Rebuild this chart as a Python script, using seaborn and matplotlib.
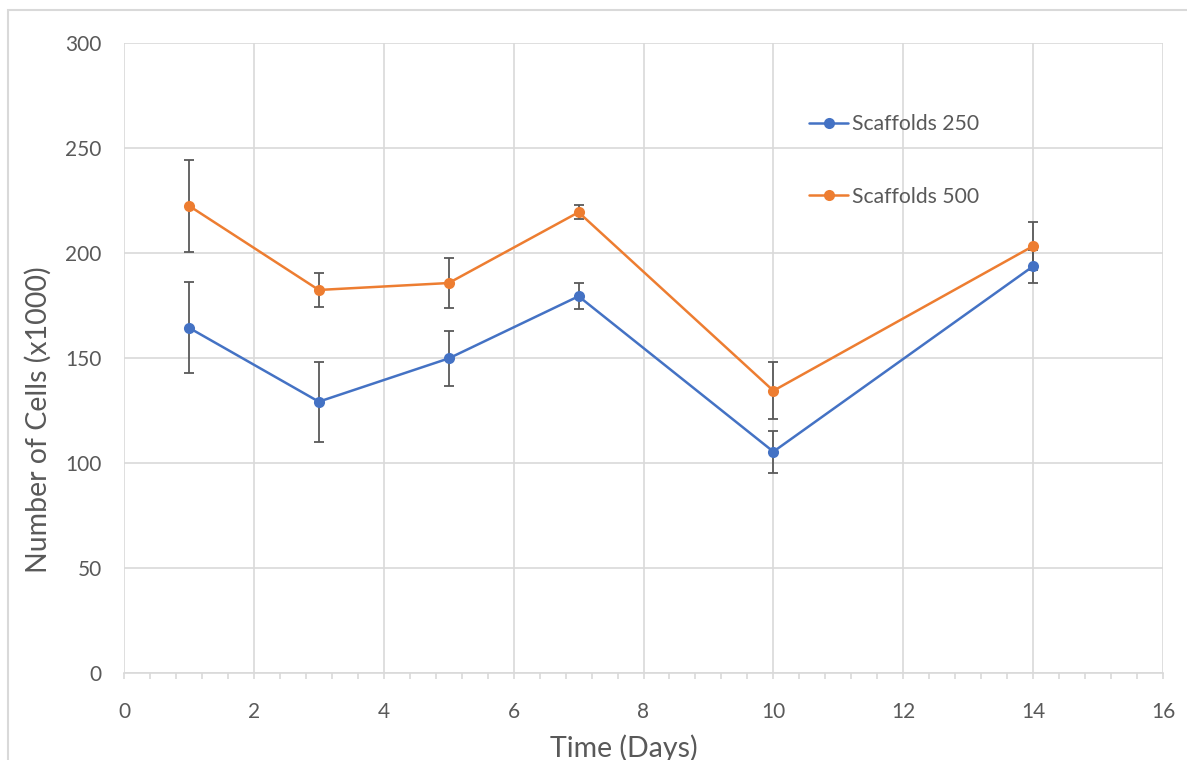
import numpy as np
import pandas as pd
import matplotlib
matplotlib.use("Agg")
import matplotlib.pyplot as plt
from matplotlib.lines import Line2D
from matplotlib.patches import Rectangle
from matplotlib.ticker import MultipleLocator
import seaborn as sns

# Cell counts (x1000) over time for two scaffold densities
days = [1, 3, 5, 7, 10, 14]
scaffolds_250 = [164.4, 129.2, 149.8, 179.4, 105.4, 193.7]
scaffolds_250_err = [21.7, 19.0, 12.9, 6.2, 10.0, 7.8]
scaffolds_500 = [222.5, 182.4, 185.7, 219.4, 134.4, 203.3]
scaffolds_500_err = [21.9, 8.3, 11.8, 3.3, 13.5, 11.3]
series_names = ["Scaffolds 250", "Scaffolds 500"]
x_ticks = [0, 2, 4, 6, 8, 10, 12, 14, 16]
y_ticks = [0, 50, 100, 150, 200, 250, 300]

BLUE = "#4472C4"
ORANGE = "#ED7D31"
GRID = "#D9D9D9"
TEXT = "#595959"

sns.set_theme(style="white")
plt.rcParams["font.family"] = ["Lato", "DejaVu Sans"]

df = pd.DataFrame({
    "day": days * 2,
    "cells": scaffolds_250 + scaffolds_500,
    "err": scaffolds_250_err + scaffolds_500_err,
    "group": [series_names[0]] * len(days) + [series_names[1]] * len(days),
})
palette = {series_names[0]: BLUE, series_names[1]: ORANGE}

W, H = 1187, 760
fig = plt.figure(figsize=(W / 100, H / 100), dpi=100)
L, R, T, B = 124, 1163, 43, 673
ax = fig.add_axes([L / W, 1 - B / H, (R - L) / W, (B - T) / H])

# error bars below the lines
for name in series_names:
    sub = df[df["group"] == name]
    ax.errorbar(sub["day"], sub["cells"], yerr=sub["err"], fmt="none",
                ecolor=TEXT, elinewidth=1.3, capsize=3.5, capthick=1.3, zorder=2)

sns.lineplot(data=df, x="day", y="cells", hue="group", palette=palette,
             marker="o", markersize=8, markeredgewidth=0, linewidth=1.8,
             legend=False, ax=ax, zorder=3)

ax.set_xlim(0, 16)
ax.set_ylim(0, 300)
ax.set_xticks(x_ticks)
ax.set_yticks(y_ticks)
ax.xaxis.set_minor_locator(MultipleLocator(0.4))
ax.grid(True, which="major", color=GRID, linewidth=1.2, zorder=0)
ax.set_axisbelow(True)
for side in ["top", "right", "left"]:
    ax.spines[side].set_visible(False)
ax.spines["bottom"].set_color(GRID)
ax.spines["bottom"].set_linewidth(1.2)

ax.tick_params(axis="x", which="both", direction="out", length=4, width=1.2,
               color=GRID, pad=17, labelsize=15, labelcolor=TEXT, bottom=True)
ax.tick_params(axis="x", which="minor", labelbottom=False)
ax.tick_params(axis="y", which="both", length=0, pad=16, labelsize=15, labelcolor=TEXT)

ax.set_xlabel("Time (Days)", fontsize=20.5, color=TEXT)
ax.set_ylabel("Number of Cells (x1000)", fontsize=20.5, color=TEXT)
ax.xaxis.set_label_coords((624 - L) / (R - L), (B - 757) / (B - T))
ax.xaxis.label.set_va("baseline")
ax.yaxis.set_label_coords((38 - L) / (R - L), (B - 420) / (B - T))
ax.yaxis.label.set_va("center")

handles = [Line2D([], [], color=palette[n], marker="o", markersize=8,
                  markeredgewidth=0, linewidth=1.8) for n in series_names]
fig.legend(handles, series_names, loc="upper left",
           bbox_to_anchor=(809 / W, 1 - 114 / H), frameon=False,
           fontsize=15.2, labelcolor=TEXT, handlelength=1.85, handletextpad=0.19,
           labelspacing=2.5, borderpad=0, borderaxespad=0)

# chart-area border
fig.patches.append(Rectangle((8 / W, -0.1), 1.2, 1 - 10 / H + 0.1,
                             transform=fig.transFigure, fill=False,
                             edgecolor=GRID, linewidth=1.5, zorder=0))

fig.savefig("out.png", dpi=100)
